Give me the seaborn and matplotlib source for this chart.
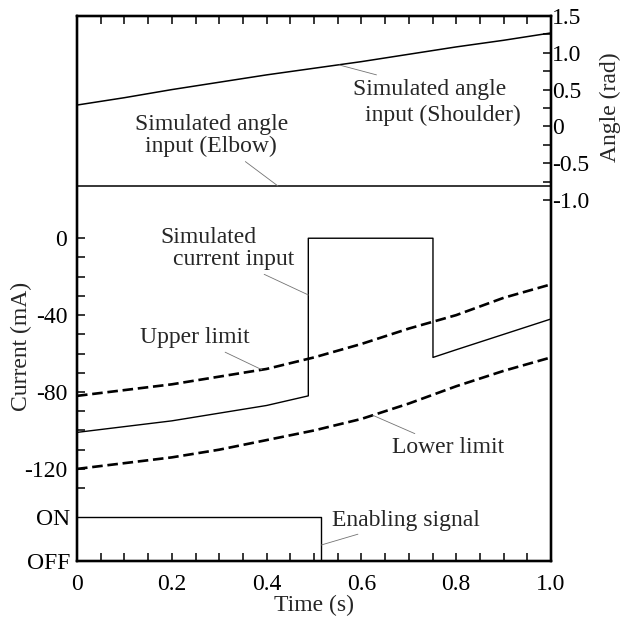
import numpy as np
import pandas as pd
import matplotlib
matplotlib.use("Agg")
import matplotlib.pyplot as plt
from matplotlib.ticker import FixedLocator
import seaborn as sns

# ---------------- data ----------------
t_grid = [0.0, 0.1, 0.2, 0.3, 0.4, 0.5, 0.6, 0.7, 0.8, 0.9, 1.0]
upper_limit = [-82, -79, -76, -72, -68, -62, -55, -47, -40, -31, -24]
lower_limit = [-120, -117, -114, -110, -105, -100, -94, -86, -77, -69, -62]

t_current = [0.0, 0.1, 0.2, 0.3, 0.4, 0.488, 0.488, 0.751, 0.751, 0.8, 0.9, 1.0]
sim_current = [-101, -98, -95, -91, -87, -82, 0, 0, -62, -58, -50, -42]

shoulder_angle = [0.29, 0.39, 0.50, 0.60, 0.70, 0.79, 0.88, 0.98, 1.08, 1.17, 1.27]
t_elbow = [0.0, 1.0]
elbow_angle = [-0.81, -0.81]

t_enable = [0.0, 0.515, 0.515, 1.0]
enable_signal = [1, 1, 0, 0]

current_ticks = [0, -40, -80, -120]
current_labels = ["0", "-40", "-80", "-120"]
angle_ticks = [1.5, 1.0, 0.5, 0.0, -0.5, -1.0]
angle_labels = ["1.5", "1.0", "0.5", "0", "-0.5", "-1.0"]
time_ticks = [0, 0.2, 0.4, 0.6, 0.8, 1.0]
time_labels = ["0", "0.2", "0.4", "0.6", "0.8", "1.0"]

# ---------------- style ----------------
sns.set_style("white")
plt.rcParams["font.family"] = ["Liberation Serif", "DejaVu Serif"]
plt.rcParams["axes.unicode_minus"] = False
FS = 17

fig = plt.figure(figsize=(6.22, 6.23), dpi=100)
ax = fig.add_axes([77 / 622, 1 - 561 / 623, 474 / 622, 545 / 623])
ax_ang = ax.twinx()
ax_en = ax.twinx()

dash = (0, (4, 1.8))
sns.lineplot(x=t_grid, y=upper_limit, ax=ax, color="black", lw=1.9,
             linestyle=dash, estimator=None, sort=False)
sns.lineplot(x=t_grid, y=lower_limit, ax=ax, color="black", lw=1.9,
             linestyle=dash, estimator=None, sort=False)
sns.lineplot(x=t_current, y=sim_current, ax=ax, color="black", lw=1.0,
             estimator=None, sort=False)
sns.lineplot(x=t_grid, y=shoulder_angle, ax=ax_ang, color="black", lw=1.1,
             estimator=None, sort=False)
sns.lineplot(x=t_elbow, y=elbow_angle, ax=ax_ang, color="black", lw=1.1,
             estimator=None, sort=False)
sns.lineplot(x=t_enable, y=enable_signal, ax=ax_en, color="black", lw=1.0,
             estimator=None, sort=False)

# ---------------- axes ----------------
ax.set_xlim(0, 1)
ax.set_ylim(-167.9, 115.6)
ax_ang.set_ylim(-5.905, 1.5)
ax_en.set_ylim(0, 12.3)

tick_kw = dict(direction="in", length=6, width=1.1, colors="black",
               labelsize=FS, labelcolor="black")

ax.set_xticks(time_ticks)
ax.set_xticklabels(time_labels)
ax.xaxis.set_minor_locator(FixedLocator(np.arange(0, 1.0001, 0.05)))
ax.tick_params(axis="x", which="both", top=True, bottom=True, pad=9, **tick_kw)

ax.set_yticks(current_ticks)
ax.set_yticklabels(current_labels)
ax.yaxis.set_minor_locator(FixedLocator(np.arange(-130, 0.1, 10)))
ax.tick_params(axis="y", which="both", left=True, right=False, pad=7, **tick_kw)

ax_ang.set_yticks(angle_ticks)
ax_ang.set_yticklabels(angle_labels)
ax_ang.yaxis.set_minor_locator(FixedLocator(np.arange(-1.0, 1.51, 0.25)))
ax_ang.tick_params(axis="y", which="both", right=True, left=False, pad=1, **tick_kw)

ax_en.yaxis.tick_left()
ax_en.set_yticks([0, 1])
ax_en.set_yticklabels(["OFF", "ON"])
ax_en.tick_params(axis="y", which="both", left=True, right=False, length=0,
                  pad=5, labelsize=FS, labelcolor="black")

for a in (ax, ax_ang, ax_en):
    for s in a.spines.values():
        s.set_linewidth(1.6)
        s.set_color("black")
        s.set_visible(True)
    a.set_xlabel("")
    a.set_ylabel("")

ax.set_xlabel("Time (s)", fontsize=FS)
ax.xaxis.set_label_coords(0.5, -0.063)
ax.set_ylabel("Current (mA)", fontsize=FS)
ax.yaxis.set_label_coords(-0.095, 0.394)
ax_ang.set_ylabel("Angle (rad)", fontsize=FS)
ax_ang.yaxis.set_label_coords(1.104, 0.833)

# ---------------- annotations ----------------
lead = dict(arrowstyle="-", color="0.45", lw=0.6, shrinkA=1, shrinkB=0)

ax_ang.annotate("Simulated angle\ninput (Elbow)", xy=(0.424, -0.81),
                xytext=(0.283, -0.13), ha="center", va="center",
                multialignment="center", linespacing=1.05, fontsize=FS,
                arrowprops=lead)
ax_ang.annotate("Simulated angle", xy=(0.553, 0.835), xytext=(0.744, 0.508),
                ha="center", va="center", fontsize=FS, arrowprops=lead)
ax_ang.text(0.771, 0.155, "input (Shoulder)", ha="center", va="center", fontsize=FS)

ax.text(0.278, 0.2, "Simulated", ha="center", va="center", fontsize=FS)
ax.annotate("current input", xy=(0.488, -29.5), xytext=(0.330, -11.3),
            ha="center", va="center", fontsize=FS, arrowprops=lead)
ax.annotate("Upper limit", xy=(0.390, -68.4), xytext=(0.249, -51.8),
            ha="center", va="center", fontsize=FS, arrowprops=lead)
ax.annotate("Lower limit", xy=(0.624, -92.1), xytext=(0.782, -109.1),
            ha="center", va="center", fontsize=FS, arrowprops=lead)
ax_en.annotate("Enabling signal", xy=(0.515, 0.36), xytext=(0.538, 0.925),
               ha="left", va="center", fontsize=FS, arrowprops=lead)

fig.savefig("out.png", dpi=100)
